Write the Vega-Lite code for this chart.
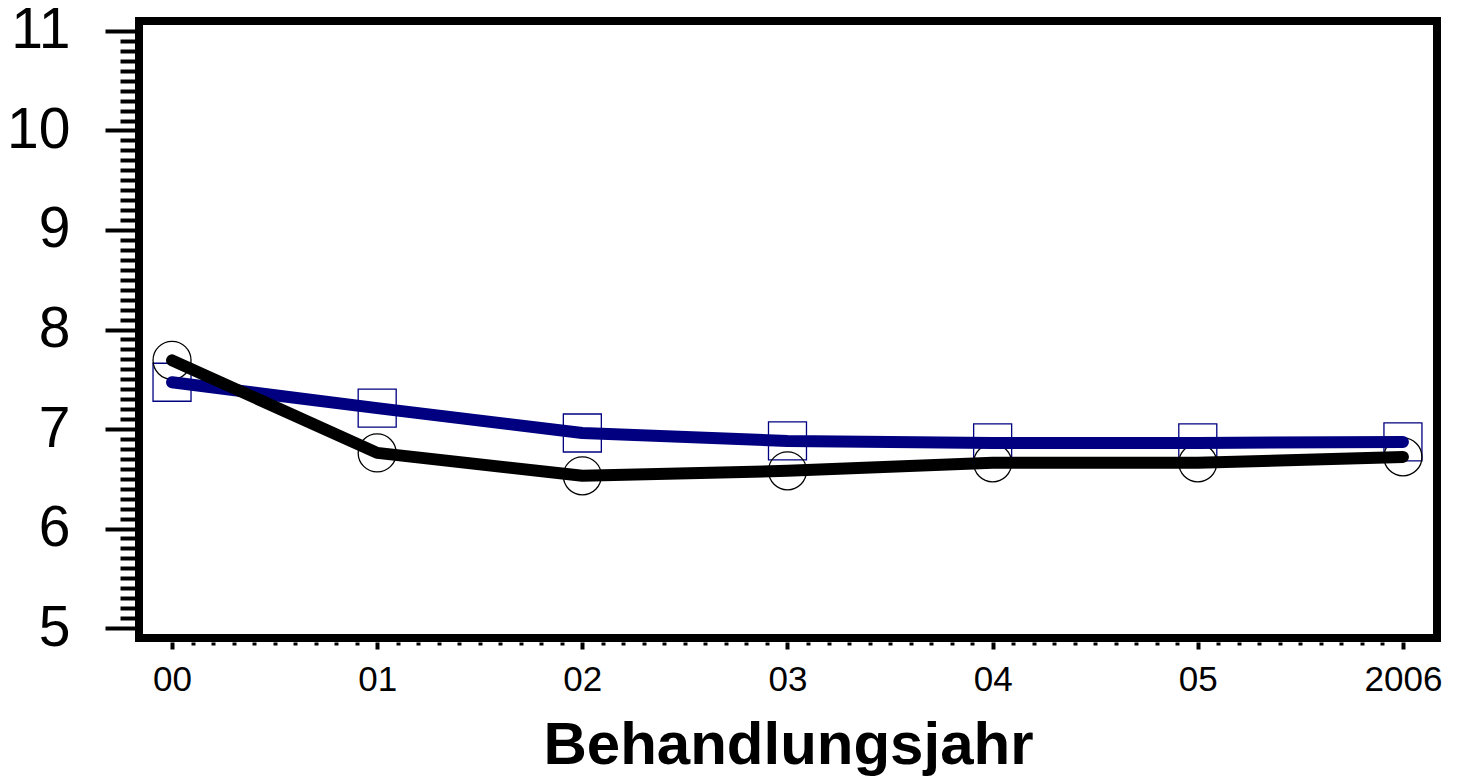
{
  "$schema": "https://vega.github.io/schema/vega-lite/v6.json",
  "width": 1298,
  "height": 617,
  "autosize": "none",
  "padding": {"left": 139, "top": 21, "right": 25, "bottom": 139},
  "background": "white",
  "config": {"view": {"stroke": "black", "strokeWidth": 8}, "font": "Liberation Sans"},
  "data": {"values": [
    {"jahr": 0, "gruppe": "Quadrat", "wert": 7.47},
    {"jahr": 1, "gruppe": "Quadrat", "wert": 7.21},
    {"jahr": 2, "gruppe": "Quadrat", "wert": 6.96},
    {"jahr": 3, "gruppe": "Quadrat", "wert": 6.88},
    {"jahr": 4, "gruppe": "Quadrat", "wert": 6.86},
    {"jahr": 5, "gruppe": "Quadrat", "wert": 6.86},
    {"jahr": 6, "gruppe": "Quadrat", "wert": 6.87},
    {"jahr": 0, "gruppe": "Kreis", "wert": 7.69},
    {"jahr": 1, "gruppe": "Kreis", "wert": 6.76},
    {"jahr": 2, "gruppe": "Kreis", "wert": 6.53},
    {"jahr": 3, "gruppe": "Kreis", "wert": 6.58},
    {"jahr": 4, "gruppe": "Kreis", "wert": 6.66},
    {"jahr": 5, "gruppe": "Kreis", "wert": 6.66},
    {"jahr": 6, "gruppe": "Kreis", "wert": 6.72}
  ]},
  "layer": [
    {
      "mark": {"type": "point", "filled": false, "size": 1444, "strokeWidth": 1.3, "opacity": 1},
      "encoding": {
        "x": {"field": "jahr", "type": "quantitative",
          "scale": {"domain": [-0.161, 6.166], "nice": false, "zero": false},
          "axis": {"orient": "bottom", "values": [0, 1, 2, 3, 4, 5, 6],
            "labelExpr": "datum.value == 6 ? '2006' : '0' + datum.value",
            "domain": false, "grid": false, "offset": 4, "tickSize": 7, "tickWidth": 4, "tickColor": "black",
            "labelFontSize": 35, "labelPadding": 13, "labelColor": "black", "labelFlush": false,
            "title": "Behandlungsjahr", "titleFontSize": 60, "titleFontWeight": "bold", "titleColor": "black",
            "titleBaseline": "alphabetic", "titleY": 121}},
        "y": {"field": "wert", "type": "quantitative",
          "scale": {"domain": [4.9, 11.1], "nice": false, "zero": false},
          "axis": {"orient": "left", "values": [5, 6, 7, 8, 9, 10, 11],
            "domain": false, "grid": false, "offset": 4, "tickSize": 30, "tickWidth": 4, "tickColor": "black",
            "labelFontSize": 57, "labelPadding": 35, "labelColor": "black", "labelFlush": false,
            "labelBaseline": "middle", "title": null}},
        "shape": {"field": "gruppe", "type": "nominal", "scale": {"domain": ["Kreis", "Quadrat"], "range": ["circle", "square"]}, "legend": null},
        "color": {"field": "gruppe", "type": "nominal", "scale": {"domain": ["Kreis", "Quadrat"], "range": ["#000000", "#000080"]}, "legend": null}
      }
    },
    {
      "transform": [{"filter": "datum.gruppe == 'Quadrat'"}],
      "mark": {"type": "line", "strokeWidth": 12, "strokeCap": "round", "strokeJoin": "round", "color": "#000080"},
      "encoding": {
        "x": {"field": "jahr", "type": "quantitative",
          "axis": {"orient": "bottom", "values": [0.1,0.2,0.3,0.4,0.5,0.6,0.7,0.8,0.9,1.1,1.2,1.3,1.4,1.5,1.6,1.7,1.8,1.9,2.1,2.2,2.3,2.4,2.5,2.6,2.7,2.8,2.9,3.1,3.2,3.3,3.4,3.5,3.6,3.7,3.8,3.9,4.1,4.2,4.3,4.4,4.5,4.6,4.7,4.8,4.9,5.1,5.2,5.3,5.4,5.5,5.6,5.7,5.8,5.9],
            "labels": false, "domain": false, "grid": false, "offset": 4, "tickSize": 3, "tickWidth": 4, "tickColor": "black", "title": null}},
        "y": {"field": "wert", "type": "quantitative",
          "axis": {"orient": "left", "values": [5.1,5.2,5.3,5.4,5.5,5.6,5.7,5.8,5.9,6.1,6.2,6.3,6.4,6.5,6.6,6.7,6.8,6.9,7.1,7.2,7.3,7.4,7.5,7.6,7.7,7.8,7.9,8.1,8.2,8.3,8.4,8.5,8.6,8.7,8.8,8.9,9.1,9.2,9.3,9.4,9.5,9.6,9.7,9.8,9.9,10.1,10.2,10.3,10.4,10.5,10.6,10.7,10.8,10.9],
            "labels": false, "domain": false, "grid": false, "offset": 4, "tickSize": 15, "tickWidth": 4, "tickColor": "black", "title": null}}
      }
    },
    {
      "transform": [{"filter": "datum.gruppe == 'Kreis'"}],
      "mark": {"type": "line", "strokeWidth": 12, "strokeCap": "round", "strokeJoin": "round", "color": "#000000"},
      "encoding": {
        "x": {"field": "jahr", "type": "quantitative", "axis": null},
        "y": {"field": "wert", "type": "quantitative", "axis": null}
      }
    }
  ],
  "resolve": {"axis": {"x": "independent", "y": "independent"}}
}
